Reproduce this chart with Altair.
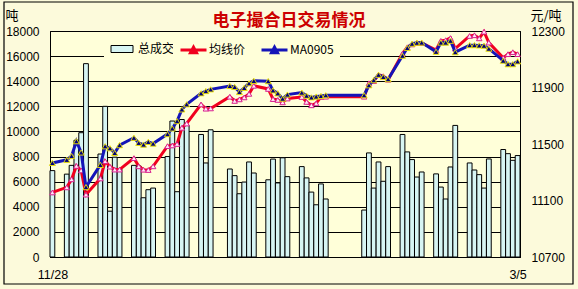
import altair as alt
import pandas as pd

# Trading days (weekends, New Year and Spring Festival closed; make-up days open)
dates = [
    "2008-11-28",
    "2008-12-01", "2008-12-02", "2008-12-03", "2008-12-04", "2008-12-05",
    "2008-12-08", "2008-12-09", "2008-12-10", "2008-12-11", "2008-12-12",
    "2008-12-15", "2008-12-16", "2008-12-17", "2008-12-18", "2008-12-19",
    "2008-12-22", "2008-12-23", "2008-12-24", "2008-12-25", "2008-12-26",
    "2008-12-29", "2008-12-30", "2008-12-31",
    "2009-01-04", "2009-01-05", "2009-01-06", "2009-01-07", "2009-01-08", "2009-01-09",
    "2009-01-12", "2009-01-13", "2009-01-14", "2009-01-15", "2009-01-16",
    "2009-01-19", "2009-01-20", "2009-01-21", "2009-01-22", "2009-01-23", "2009-01-24",
    "2009-02-01", "2009-02-02", "2009-02-03", "2009-02-04", "2009-02-05", "2009-02-06",
    "2009-02-09", "2009-02-10", "2009-02-11", "2009-02-12", "2009-02-13",
    "2009-02-16", "2009-02-17", "2009-02-18", "2009-02-19", "2009-02-20",
    "2009-02-23", "2009-02-24", "2009-02-25", "2009-02-26", "2009-02-27",
    "2009-03-02", "2009-03-03", "2009-03-04", "2009-03-05",
]

# 总成交 (吨)
volume = [
    6880,
    6600, 7300, 9300, 9900, 15400,
    8200, 12000, 3650, 7950, 7000,
    7300, 7250, 4720, 5360, 5490,
    8000, 10830, 5200, 10950, 10500,
    9760, 7490, 10130,
    7010, 6480, 5040, 5970, 7570, 6690,
    6150, 7800, 5900, 7900, 6400,
    7200, 6300, 5170, 4160, 5820, 4620,
    3740, 8290, 5490, 7570, 6030, 7200,
    9760, 8370, 7760, 6370, 6770,
    6620, 5570, 4620, 7170, 10480,
    7490, 6930, 6560, 5490, 7810,
    8560, 8230, 7700, 8080,
]

# 均线价 (元/吨)
avg_price = [
    11157,
    11193, 11250, 11345, 11313, 11142,
    11256, 11378, 11340, 11319, 11319,
    11400, 11342, 11318, 11316, 11342,
    11485, 11490, 11500, 11615, 11645,
    11780, 11750, 11752,
    11835, 11805, 11816, 11830, 11855, 11912,
    11890, 11818, 11812, 11795, 11822,
    11833, 11798, 11774, 11788, 11833, 11835,
    11835, 11930, 11945, 11990, 11980, 11955,
    12140, 12185, 12205, 12215, 12215,
    12165, 12230, 12235, 12250, 12175,
    12265, 12270, 12248, 12295, 12218,
    12110, 12136, 12150, 12136,
]

# MA0905 (元/吨)
ma0905 = [
    11366,
    11388, 11415, 11520, 11440, 11195,
    11352, 11484, 11470, 11437, 11492,
    11544, 11508, 11496, 11515, 11503,
    11570, 11610, 11662, 11745, 11781,
    11859, 11875, 11887,
    11911, 11904, 11868, 11897, 11930, 11947,
    11945, 11880, 11859, 11821, 11850,
    11864, 11842, 11830, 11836, 11840, 11845,
    11845, 11916, 11952, 11990, 11975, 11959,
    12125, 12180, 12210, 12217, 12218,
    12153, 12218, 12218, 12231, 12150,
    12200, 12200, 12198, 12196, 12175,
    12090, 12065, 12065, 12085,
]

series_names = ["总成交", "均线价", "MA0905"]
x_labels = ["11/28", "3/5"]
vol_ticks = list(range(0, 18001, 2000))
price_ticks = [10700, 11100, 11500, 11900, 12300]

CJK = "Noto Sans CJK SC"
LATIN = "Liberation Sans"
BG = "#FCFADB"
PLOT_BG = "#FFFFD9"
BAR_FILL = "#D7F5F3"
RED = "#F0001E"
BLUE = "#1414B8"

start = pd.Timestamp(dates[0])
day = [(pd.Timestamp(d) - start).days for d in dates]
span = (pd.Timestamp(dates[-1]) - start).days + 1

df = pd.DataFrame({
    "date": dates,
    "d0": day,
    "d1": [d + 1 for d in day],
    "mid": [d + 0.5 for d in day],
    "vol": volume,
    "avg": avg_price,
    "ma": ma0905,
    "vol_s": series_names[0],
    "avg_s": series_names[1],
    "ma_s": series_names[2],
})

x_scale = alt.Scale(domain=[0, span], nice=False, zero=False)
x_axis = alt.Axis(
    title=None,
    values=[day[0] + 0.5, day[-1] + 0.5],
    labelExpr=f"datum.value < {span / 2} ? '{x_labels[0]}' : '{x_labels[1]}'",
    grid=False, ticks=False, tickSize=0, labelPadding=11,
    labelFlush=False, labelOverlap=False, labelFontSize=12.5,
)

vol_axis = alt.Axis(
    values=vol_ticks, format="d", grid=True, ticks=False, tickSize=0, labelPadding=11,
    title="吨", titleAngle=0, titleX=-45, titleY=-16,
    titleAlign="left", titleBaseline="middle",
)
price_axis = alt.Axis(
    orient="right", values=price_ticks, format="d", grid=False, ticks=False, tickSize=0,
    labelPadding=11,
    title="元/吨", titleAngle=0, titleX=10, titleY=-16,
    titleAlign="left", titleBaseline="middle",
)
price_scale = alt.Scale(domain=[10700, 12300], nice=False, zero=False)

bar_legend = alt.Legend(
    orient="none", legendX=54, legendY=6, direction="horizontal", title=None,
    padding=6, fillColor=PLOT_BG,
    symbolType="M-1,-0.7H3.4V0.7H-1Z", symbolSize=100,
    symbolStrokeColor="black", symbolStrokeWidth=1,
    labelOffset=16, labelFont=CJK, labelFontSize=12, labelColor="black",
)
line_legend = alt.Legend(
    orient="none", legendX=123, legendY=6, direction="horizontal", title=None,
    padding=6, fillColor=PLOT_BG,
    symbolType="M-1,0H4.2M1.0,0.55L1.6,-0.55L2.2,0.55Z", symbolSize=100,
    symbolStrokeWidth=3, columnPadding=9,
    labelOffset=17, labelFont=CJK, labelFontSize=12, labelColor="black",
)
stroke_scale = alt.Scale(domain=series_names[1:], range=[RED, BLUE])

base = alt.Chart(df)

# outer frame around the whole chart
frame = alt.Chart(pd.DataFrame({"k": [0]})).mark_rect(
    fillOpacity=0, stroke="black", strokeWidth=1.2
).encode(
    x=alt.value(-46), x2=alt.value(523), y=alt.value(-29), y2=alt.value(253)
)

bars = base.mark_rect(stroke="black", strokeWidth=1).encode(
    x=alt.X("d0:Q", scale=x_scale, axis=x_axis),
    x2="d1:Q",
    y=alt.Y("vol:Q", scale=alt.Scale(domain=[0, 18000], nice=False), axis=vol_axis),
    y2=alt.datum(0),
    fill=alt.Fill("vol_s:N", scale=alt.Scale(domain=series_names[:1], range=[BAR_FILL]),
                  legend=bar_legend),
)

x_enc = alt.X("mid:Q", scale=x_scale, axis=x_axis)

red_line = base.mark_line(strokeWidth=3).encode(
    x=x_enc,
    y=alt.Y("avg:Q", scale=price_scale, axis=price_axis),
    stroke=alt.Stroke("avg_s:N", scale=stroke_scale, legend=line_legend),
)
red_pts = base.mark_point(
    shape="triangle-up", filled=True, fill="#FFE8F4", stroke="#D8208E",
    strokeWidth=1, size=30, opacity=1,
).encode(x=x_enc, y=alt.Y("avg:Q", scale=price_scale, axis=price_axis))

blue_line = base.mark_line(strokeWidth=3).encode(
    x=x_enc,
    y=alt.Y("ma:Q", scale=price_scale, axis=price_axis),
    stroke=alt.Stroke("ma_s:N", scale=stroke_scale, legend=line_legend),
)
blue_pts = base.mark_point(
    shape="triangle-up", filled=True, fill="#00007A", stroke="#F2E600",
    strokeWidth=0.9, size=36, opacity=1,
).encode(x=x_enc, y=alt.Y("ma:Q", scale=price_scale, axis=price_axis))

price_layer = alt.layer(red_line, red_pts, blue_line, blue_pts)

chart = alt.layer(frame, bars, price_layer).resolve_scale(
    y="independent"
).properties(
    width=470,
    height=226,
    autosize=alt.AutoSizeParams(type="none"),
    padding={"left": 50, "top": 31, "right": 58, "bottom": 32},
    background=BG,
    title=alt.Title(
        "电子撮合日交易情况", color="#CC0000", font=CJK, fontSize=17,
        fontWeight="bold", anchor="middle", dx=4, dy=33, offset=4,
    ),
).configure_view(
    stroke="black", strokeWidth=1, fill=PLOT_BG
).configure_axis(
    labelFont=LATIN, labelFontSize=12, labelColor="black",
    titleFont=CJK, titleFontSize=13, titleFontWeight="normal", titleColor="black",
    domainColor="black", gridColor="black", gridWidth=1, tickColor="black",
)

chart.save("out.html", embed_options={"renderer": "svg", "actions": False})
